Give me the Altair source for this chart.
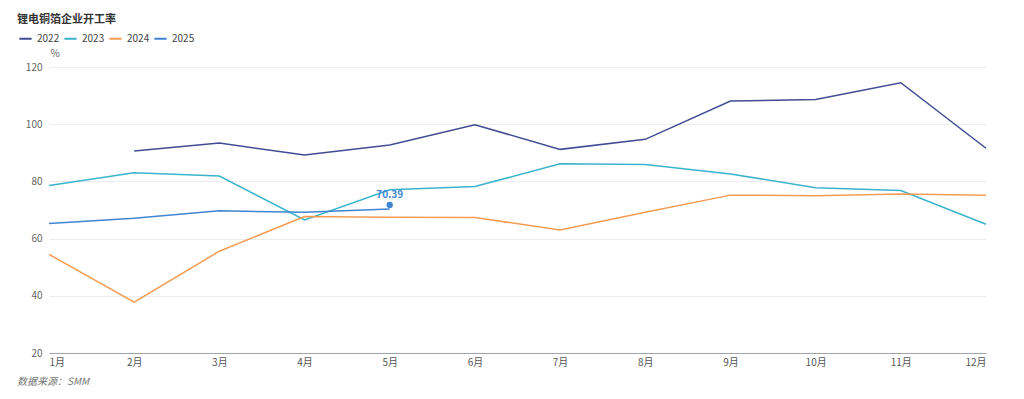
import altair as alt
import pandas as pd

months = list(range(1, 13))
years = ["2022", "2023", "2024", "2025"]
v2022 = [None, 90.6, 93.4, 89.2, 92.7, 99.8, 91.2, 94.7, 108.1, 108.6, 114.5, 91.6]
v2023 = [78.6, 83.0, 81.9, 66.5, 77.1, 78.2, 86.2, 85.9, 82.6, 77.8, 76.8, 65.0]
v2024 = [54.5, 37.8, 55.6, 67.7, 67.5, 67.4, 63.0, 69.2, 75.2, 75.0, 75.6, 75.2]
v2025 = [65.3, 67.1, 69.7, 69.2, 70.39, None, None, None, None, None, None, None]
colors = ["#414c94", "#3ab4cb", "#f59c52", "#3f85d2"]
title_text = "锂电铜箔企业开工率"
source_text = "数据来源：SMM"
FONT = "Noto Sans CJK SC"

rows = []
for y, vals in zip(years, [v2022, v2023, v2024, v2025]):
    for m, v in zip(months, vals):
        if v is not None:
            rows.append({"year": y, "month": m, "value": v})
df = pd.DataFrame(rows)

W, H = 937, 286

base = alt.Chart(df)

lines = base.mark_line(strokeWidth=1.5).encode(
    x=alt.X("month:Q",
            scale=alt.Scale(domain=[1, 12], nice=False, zero=False),
            axis=alt.Axis(values=months, labelExpr="datum.value + '月'", grid=False,
                          ticks=False, domainColor="#a0a4ad", domainWidth=1.2,
                          labelColor="#555", labelFontSize=10, labelPadding=4,
                          labelFlush=True, labelFont=FONT, title=None)),
    y=alt.Y("value:Q",
            scale=alt.Scale(domain=[20, 120], nice=False, zero=False),
            axis=alt.Axis(values=[20, 40, 60, 80, 100, 120], domain=False, ticks=False,
                          gridColor="#ececec", labelColor="#666", labelFontSize=10,
                          labelPadding=7, labelFont=FONT,
                          title="%", titleAngle=0, titleX=1, titleY=-9,
                          titleAlign="left", titleBaseline="bottom",
                          titleFontWeight="normal", titleFontSize=10,
                          titleColor="#666", titleFont=FONT)),
    color=alt.Color("year:N",
                    scale=alt.Scale(domain=years, range=colors),
                    legend=alt.Legend(title=None, orient="none", direction="horizontal",
                                      legendX=-31, legendY=-36, symbolType="stroke",
                                      symbolSize=150, symbolStrokeWidth=2,
                                      labelFontSize=10, labelColor="#444",
                                      labelFont=FONT, columnPadding=0, labelOffset=4)),
)

last = base.transform_filter("datum.year == '2025' && datum.month == 5")

pt = last.mark_point(filled=True, size=40, color="#3f85d2", opacity=1).encode(
    x="month:Q", y="value:Q", yOffset=alt.value(-4))

lbl = last.mark_text(color="#3f85d2", fontSize=10, fontWeight="bold", font=FONT,
                     dy=-14).encode(
    x="month:Q", y="value:Q", text=alt.Text("value:Q", format=".2f"))

src = alt.Chart(pd.DataFrame({"t": [source_text]})).mark_text(
    align="left", baseline="middle", fontSize=10, fontStyle="italic",
    color="#777", font=FONT).encode(
    x=alt.value(-32), y=alt.value(H + 29), text="t:N")

chart = alt.layer(lines, pt, lbl, src).properties(
    width=W, height=H,
    title=alt.TitleParams(title_text, anchor="start", frame="group", dx=-32, dy=-2,
                          fontSize=11, fontWeight="bold", color="#333", font=FONT),
    autosize=alt.AutoSizeParams(type="none"),
    padding={"left": 41, "top": 59, "right": 30, "bottom": 38},
).configure_view(stroke=None).configure_title(offset=0)

chart.save("out.html", embed_options={"renderer": "svg", "actions": False})
